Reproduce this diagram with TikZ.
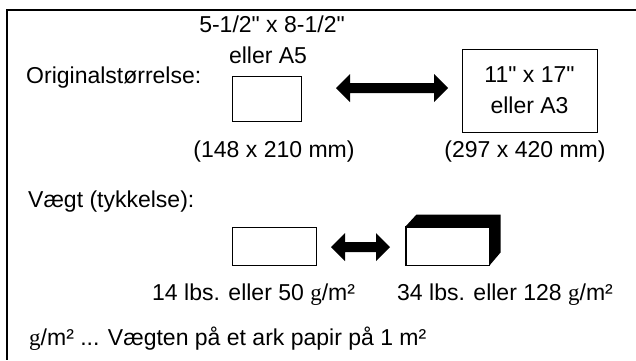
\documentclass[tikz,border=0pt]{standalone}
\usepackage{fontspec}
\setmainfont{Liberation Sans}[Ligatures=TeXOff]
\newfontfamily\gfont{Liberation Serif}
\begin{document}
\begin{tikzpicture}[x=1pt,y=-1pt,
  txt/.style={inner sep=0pt,font=\fontsize{23}{27}\selectfont},
  paper/.style={draw,line width=1pt,fill=white,inner sep=0pt},
  frameline/.style={line width=1.6pt}]
\useasboundingbox (0,0) rectangle (636,360);
\draw[frameline] (636,10) -- (7,10) -- (7,360);
% sizes
\node[txt,anchor=base] (s1) at (272,32) {5-1/2" x 8-1/2"};
\node[txt,anchor=base] (s2) at (268,63) {eller A5};
\node[txt,anchor=base west] (orig) at (26,83) {Originalstørrelse:};
\node[paper,minimum width=69pt,minimum height=45pt] (a5) at (266.5,98.5) {};
\node[paper,minimum width=135pt,minimum height=83pt] (a3) at (529.5,90.5) {};
\node[txt,anchor=base] (l1) at (a3.center|-0,82) {11" x 17"};
\node[txt,anchor=base] (l2) at (a3.center|-0,113) {eller A3};
\node[txt,anchor=base] (m1) at (274,157) {(148 x 210 mm)};
\node[txt,anchor=base] (m2) at (525,157) {(297 x 420 mm)};
\fill (336,88) -- (350,74) -- (350,83) -- (434,83) -- (434,74) -- (448,88)
  -- (434,102) -- (434,93) -- (350,93) -- (350,102) -- cycle;
% weight
\node[txt,anchor=base west] (w) at (28,207) {Vægt (tykkelse):};
\node[paper,minimum width=84pt,minimum height=38pt] (thin) at (274,246) {};
\fill (331,247) -- (345,233) -- (345,242) -- (376,242) -- (376,233) -- (390,247)
  -- (376,261) -- (376,252) -- (345,252) -- (345,261) -- cycle;
\node[paper,minimum width=83pt,minimum height=38pt] (thick) at (447.5,246) {};
\fill (thick.north west) -- ++(11,-12) -- ++(84,0) -- ++(0,38) -- (thick.south east) -- (thick.north east) -- cycle;
\draw[line width=1pt] (thick.north west) rectangle (thick.south east);
\node[txt,anchor=base west] (t1) at (152,300) {14 lbs. eller 50 {\gfont g}/m²};
\node[txt,anchor=base west] (t2) at (397,300) {34 lbs. eller 128 {\gfont g}/m²};
\node[txt,anchor=base west] (note) at (29,345) {{\gfont g}/m² ... Vægten på et ark papir på 1 m²};
\end{tikzpicture}
\end{document}
